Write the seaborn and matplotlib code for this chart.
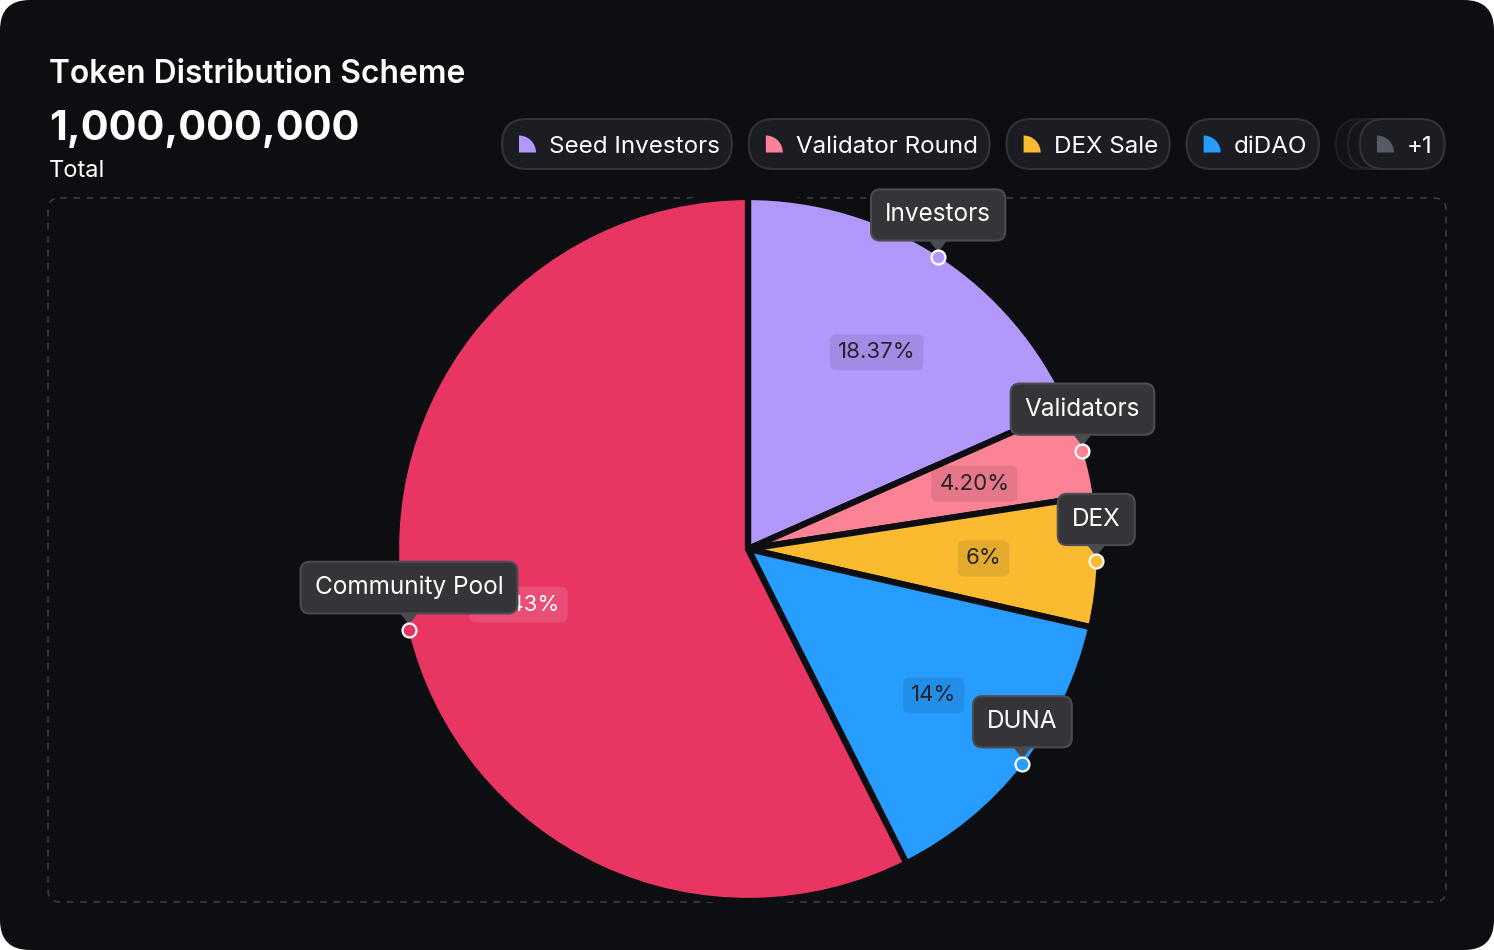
import numpy as np
import pandas as pd
import matplotlib
matplotlib.use("Agg")
import matplotlib.pyplot as plt
from matplotlib.patches import FancyBboxPatch, Wedge, Polygon
import seaborn as sns

# chart data
slice_names = ["Investors", "Validators", "DEX", "DUNA", "Community Pool"]
shares = [18.37, 4.20, 6, 14, 57.43]
legend_labels = ["Seed Investors", "Validator Round", "DEX Sale", "diDAO"]
slice_colors = ["#B398FC", "#FC8396", "#FBBB30", "#279DFF", "#E83562"]
title = "Token Distribution Scheme"
total_supply = 1000000000

BG = "#0D0E12"
W, H = 1494, 950

sns.set_theme(style="dark")
plt.rcParams["font.family"] = ["Inter", "DejaVu Sans"]
palette = sns.color_palette(slice_colors)

df = pd.DataFrame({"name": slice_names, "share": shares})


def pct_label(v):
    return f"{v:.0f}%" if float(v).is_integer() else f"{v:.2f}%"


df["label"] = df["share"].apply(pct_label)

fig = plt.figure(figsize=(W / 100, H / 100), dpi=100, facecolor="white")
ax = fig.add_axes([0, 0, 1, 1])

# card background
ax.add_patch(FancyBboxPatch((0, 0), W, H, boxstyle="round,pad=0,rounding_size=30",
                            fc=BG, ec="none", zorder=0))
# dashed plot frame
ax.add_patch(FancyBboxPatch((48, 198), 1398, 704, boxstyle="round,pad=0,rounding_size=12",
                            fill=False, ec="#3a3c43", lw=1.2, ls=(0, (4, 4)), zorder=1))

# pie (pixel coords, y pointing down)
cx, cy, R = 748, 549, 352
wedges, _ = ax.pie(df["share"], colors=palette, startangle=-90, counterclock=True,
                   center=(cx, cy), radius=R,
                   wedgeprops=dict(edgecolor=BG, linewidth=4.5, zorder=2))
ax.set_xlim(0, W)
ax.set_ylim(H, 0)
ax.set_aspect("auto")
ax.axis("off")

for i, w in enumerate(wedges):
    mid = np.deg2rad((w.theta1 + w.theta2) / 2)
    dark = i != len(wedges) - 1
    # percent label
    lx, ly = cx + 0.67 * R * np.cos(mid), cy + 0.67 * R * np.sin(mid)
    ax.text(lx, ly + 1, df["label"][i], ha="center", va="center", fontsize=16,
            color="#23232b" if dark else "white", zorder=5,
            bbox=dict(boxstyle="round,pad=0.36,rounding_size=0.3", lw=0,
                      fc=(0, 0, 0, 0.09) if dark else (1, 1, 1, 0.12)))
    # tooltip
    dx, dy = cx + 0.99 * R * np.cos(mid), cy + 0.99 * R * np.sin(mid)
    ax.add_patch(Polygon([(dx - 11, dy - 19), (dx + 11, dy - 19), (dx, dy - 5)],
                         closed=True, fc="#4a4b50", ec="none", zorder=9))
    ax.text(dx, dy - 42, df["name"][i], ha="center", va="center", fontsize=17.5,
            color="white", zorder=10,
            bbox=dict(boxstyle="round,pad=0.58,rounding_size=0.38", fc="#353539",
                      ec="#4b4c51", lw=1.5))
    ax.scatter([dx], [dy], s=100, color=palette[i], edgecolors="white",
               linewidths=1.6, zorder=11)

# header texts
ax.text(49, 83, title, fontsize=22.9, fontweight="semibold", color="white", va="baseline")
ax.text(49, 140, f"{total_supply:,}", fontsize=29.8, fontweight="bold", color="white",
        va="baseline")
ax.text(49, 177, "Total", fontsize=17, color="white", va="baseline")

# legend pills
renderer = fig.canvas.get_renderer()
py, ph = 119, 50


def pill(x, w, fc="#1b1d22", ec="#30333a", z=6):
    ax.add_patch(FancyBboxPatch((x, py), w, ph, boxstyle="round,pad=0,rounding_size=25",
                                fc=fc, ec=ec, lw=1.5, zorder=z))


def pill_content(x, label, color, z=7):
    ax.add_patch(Wedge((x + 17, py + ph / 2 + 8.5), 17, -90, 0, fc=color, ec="none", zorder=z))
    t = ax.text(x + 47, py + ph / 2 + 9, label, fontsize=17.4, color="white",
                va="baseline", zorder=z)
    return t.get_window_extent(renderer).width


x = 502
for lab, col in zip(legend_labels, palette):
    tw = pill_content(x, lab, col)
    w = 47 + tw + 11.8
    pill(x, w)
    x += w + 17

extra = len(shares) - len(legend_labels)
pill(x, 86, fc="#121318", ec="#1c1e24", z=6)
pill(x + 12, 86, fc="#15161b", ec="#24262d", z=6.2)
tw = pill_content(x + 24, f"+{extra}", "#585B65", z=7)
pill(x + 24, 47 + tw + 12, z=6.5)

fig.savefig("out.png", dpi=100, facecolor="white")
